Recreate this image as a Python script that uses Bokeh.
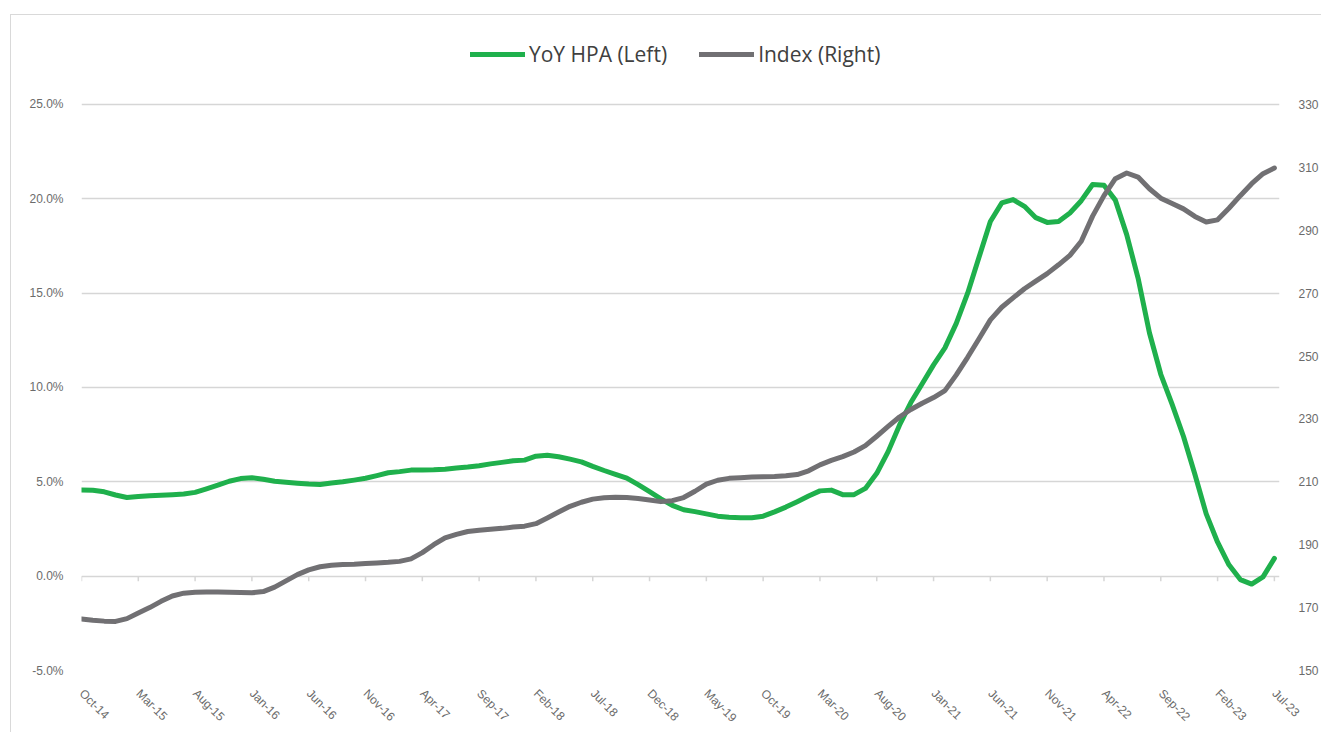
import math
from bokeh.plotting import figure
from bokeh.models import (Range1d, LinearAxis, FixedTicker, PrintfTickFormatter,
                          Legend, LegendItem, ColumnDataSource)
from bokeh.embed import file_html
from bokeh.resources import INLINE

# ---------------- data (monthly, Oct-14 .. Jul-23) ----------------
yoy_hpa = [
    4.57, 4.55, 4.47, 4.30, 4.17, 4.22, 4.26, 4.29, 4.32, 4.35,
    4.44, 4.63, 4.82, 5.03, 5.17, 5.22, 5.14, 5.03, 4.98, 4.93,
    4.88, 4.86, 4.94, 5.00, 5.09, 5.19, 5.33, 5.48, 5.54, 5.62,
    5.63, 5.64, 5.67, 5.73, 5.78, 5.85, 5.95, 6.03, 6.12, 6.15,
    6.36, 6.41, 6.33, 6.20, 6.06, 5.82, 5.60, 5.40, 5.20, 4.85,
    4.48, 4.10, 3.75, 3.52, 3.42, 3.30, 3.18, 3.12, 3.09, 3.10,
    3.18, 3.41, 3.66, 3.95, 4.25, 4.52, 4.56, 4.32, 4.32, 4.65,
    5.45, 6.60, 8.00, 9.20, 10.20, 11.20, 12.10, 13.40, 15.00, 16.90,
    18.80, 19.78, 19.96, 19.60, 19.00, 18.75, 18.80, 19.25, 19.90, 20.76,
    20.72, 19.93, 18.10, 15.80, 12.90, 10.70, 9.10, 7.40, 5.40, 3.30,
    1.80, 0.60, -0.18, -0.42, -0.04, 0.94,
]
hpi_index = [
    166.4, 166.0, 165.7, 165.6, 166.5, 168.3, 170.0, 172.0, 173.7, 174.6,
    174.9, 175.0, 175.0, 174.9, 174.8, 174.7, 175.1, 176.5, 178.5, 180.5,
    182.0, 183.0, 183.5, 183.7, 183.8, 184.0, 184.2, 184.4, 184.7, 185.5,
    187.5, 190.0, 192.2, 193.3, 194.2, 194.6, 194.9, 195.2, 195.6, 195.9,
    196.7, 198.5, 200.4, 202.2, 203.5, 204.5, 204.9, 205.1, 205.0, 204.7,
    204.2, 203.7, 204.0, 205.0, 207.0, 209.3, 210.5, 211.1, 211.3, 211.5,
    211.6, 211.7, 211.9, 212.3, 213.5, 215.4, 216.8, 218.0, 219.5, 221.5,
    224.5, 227.6, 230.6, 233.0, 235.0, 236.8, 239.0, 244.0, 249.6, 255.5,
    261.5, 265.5, 268.5, 271.4, 273.8, 276.2, 279.0, 282.0, 286.5, 294.5,
    301.0, 306.4, 308.2, 306.9, 303.2, 300.2, 298.5, 296.8, 294.4, 292.6,
    293.3, 297.0, 301.0, 304.8, 308.0, 309.8,
]
tick_labels = ["Oct-14", "Mar-15", "Aug-15", "Jan-16", "Jun-16", "Nov-16",
               "Apr-17", "Sep-17", "Feb-18", "Jul-18", "Dec-18", "May-19",
               "Oct-19", "Mar-20", "Aug-20", "Jan-21", "Jun-21", "Nov-21",
               "Apr-22", "Sep-22", "Feb-23", "Jul-23"]
tick_every = 5
left_ticks = [-5, 0, 5, 10, 15, 20, 25]
right_ticks = [150, 170, 190, 210, 230, 250, 270, 290, 310, 330]
series_names = ["YoY HPA (Left)", "Index (Right)"]

# ---------------- build ----------------
month_idx = list(range(len(yoy_hpa)))
tick_pos = [i * tick_every for i in range(len(tick_labels))]

GREEN = "#1fb04c"
GREY = "#717073"
GRID = "#d6d6d6"
LABEL = "#6b6b6b"
FONT = "Liberation Sans"

# headroom above the top gridline (in % units) leaves space for the legend
HEADROOM = 3.92
left_lo, left_hi = left_ticks[0], left_ticks[-1] + HEADROOM
ratio = (right_ticks[-1] - right_ticks[0]) / (left_ticks[-1] - left_ticks[0])
right_lo, right_hi = right_ticks[0], right_ticks[-1] + HEADROOM * ratio

src = ColumnDataSource(dict(x=month_idx, hpa=yoy_hpa, idx=hpi_index))

p = figure(frame_width=1198, frame_height=640,
           x_range=Range1d(0, len(yoy_hpa) - 1 + 0.45),
           y_range=Range1d(left_lo, left_hi),
           output_backend="svg", toolbar_location=None,
           min_border_left=70, min_border_top=15, min_border_bottom=60,
           min_border_right=42)
p.styles = {"margin-left": "10px", "margin-top": "14px",
            "border-left": "1px solid #d9d9d9", "border-top": "1px solid #d9d9d9"}
p.outline_line_color = None
p.background_fill_color = "white"
p.border_fill_color = "white"
p.extra_y_ranges = {"idx": Range1d(right_lo, right_hi)}

# grid
p.xgrid.visible = False
p.ygrid.ticker = FixedTicker(ticks=left_ticks)
p.ygrid.grid_line_color = GRID
p.ygrid.grid_line_width = 1.5

# left axis
ly = p.yaxis[0]
ly.ticker = FixedTicker(ticks=left_ticks)
ly.formatter = PrintfTickFormatter(format="%.1f%%")
ly.axis_line_color = None
ly.major_tick_line_color = None
ly.minor_tick_line_color = None
ly.major_tick_out = 0
ly.major_tick_in = 0
ly.major_label_standoff = 18
ly.major_label_text_font = FONT
ly.major_label_text_font_size = "12px"
ly.major_label_text_color = LABEL

# right axis
ry = LinearAxis(y_range_name="idx", ticker=FixedTicker(ticks=right_ticks))
ry.axis_line_color = None
ry.major_tick_line_color = None
ry.minor_tick_line_color = None
ry.major_tick_out = 0
ry.major_tick_in = 0
ry.major_label_standoff = 19
ry.major_label_text_font = FONT
ry.major_label_text_font_size = "12px"
ry.major_label_text_color = LABEL
p.add_layout(ry, "right")

# bottom axis
bx = p.xaxis[0]
bx.ticker = FixedTicker(ticks=tick_pos)
bx.major_label_overrides = {t: l for t, l in zip(tick_pos, tick_labels)}
bx.major_label_orientation = -math.pi / 4
bx.axis_line_color = None
bx.major_tick_line_color = None
bx.minor_tick_line_color = None
bx.major_tick_out = 0
bx.major_tick_in = 0
bx.major_label_standoff = 21
bx.major_label_text_font = FONT
bx.major_label_text_font_size = "12px"
bx.major_label_text_color = LABEL

# category tick marks on the zero line
p.segment(x0=tick_pos, y0=[0] * len(tick_pos), x1=tick_pos,
          y1=[-0.27] * len(tick_pos), line_color=GRID, line_width=1.5)

r1 = p.line("x", "hpa", source=src, line_color=GREEN, line_width=5,
            line_join="round", line_cap="round")
r2 = p.line("x", "idx", source=src, y_range_name="idx", line_color=GREY,
            line_width=5, line_join="round", line_cap="round")

legend = Legend(items=[LegendItem(label=series_names[0], renderers=[r1]),
                       LegendItem(label=series_names[1], renderers=[r2])],
                orientation="horizontal", location=(389, 602),
                glyph_width=55, glyph_height=20, label_height=20,
                label_standoff=4, spacing=32, padding=0, margin=0,
                border_line_color=None, background_fill_alpha=0,
                label_text_font="Open Sans", label_text_font_size="21px",
                label_text_color="#404040")
p.add_layout(legend)

open("out.html", "w").write(file_html(p, INLINE))
